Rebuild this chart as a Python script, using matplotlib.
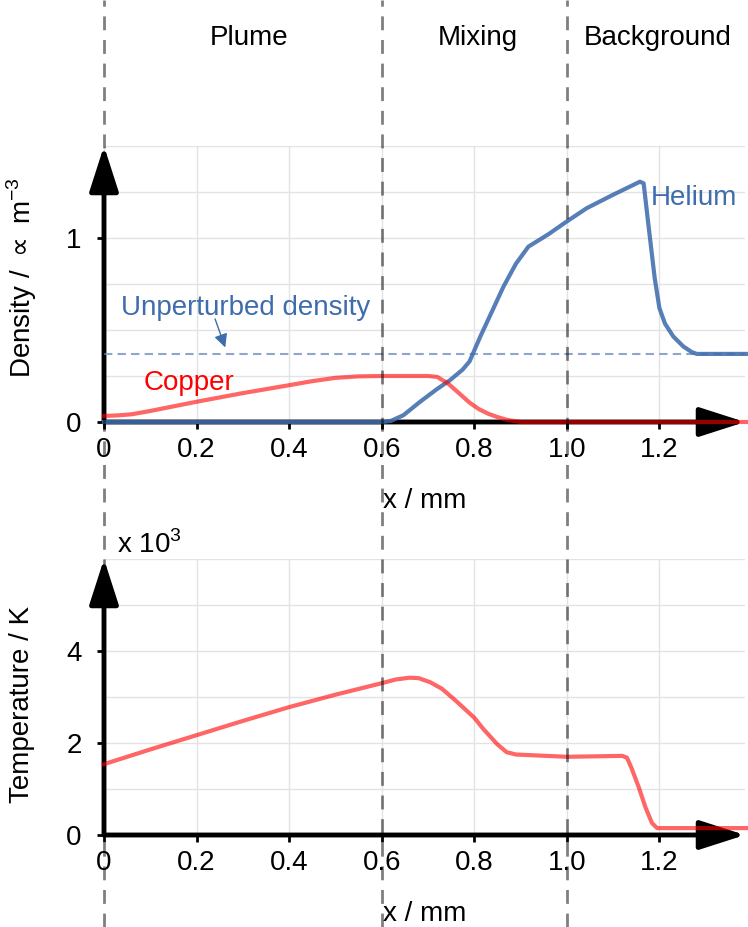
import matplotlib.pyplot as plt
import matplotlib.transforms as mtransforms
from matplotlib.lines import Line2D

plt.rcParams["font.family"] = ["Liberation Sans", "DejaVu Sans"]
plt.rcParams["font.size"] = 20

# density profiles (arb. units) vs position in mm
x_cu = [0.0, 0.03, 0.06, 0.1, 0.15, 0.2, 0.3, 0.4, 0.45, 0.5, 0.55, 0.6, 0.7, 0.72,
        0.743, 0.77, 0.79, 0.81, 0.83, 0.85, 0.87, 0.9, 1.39]
n_cu = [0.033, 0.036, 0.042, 0.06, 0.085, 0.11, 0.157, 0.2, 0.222, 0.24, 0.248, 0.25,
        0.25, 0.245, 0.21, 0.15, 0.105, 0.07, 0.045, 0.027, 0.012, 0.0, 0.0]

x_he = [0.0, 0.6, 0.62, 0.647, 0.683, 0.719, 0.748, 0.775, 0.79, 0.813, 0.84, 0.863,
        0.89, 0.917, 0.96, 1.0, 1.043, 1.1, 1.158, 1.166, 1.175, 1.182, 1.19, 1.2,
        1.212, 1.23, 1.252, 1.27, 1.281, 1.39]
n_he = [0.0, 0.0, 0.006, 0.037, 0.11, 0.178, 0.228, 0.285, 0.33, 0.464, 0.61, 0.735,
        0.86, 0.953, 1.02, 1.09, 1.162, 1.235, 1.306, 1.297, 1.1, 0.95, 0.78, 0.62,
        0.535, 0.465, 0.41, 0.38, 0.37, 0.37]

n_unperturbed = 0.37

# temperature in 10^3 K
x_t = [0.0, 0.1, 0.2, 0.3, 0.4, 0.5, 0.6, 0.63, 0.66, 0.68, 0.705, 0.73, 0.76, 0.8,
       0.82, 0.85, 0.87, 0.89, 1.0, 1.12, 1.13, 1.14, 1.155, 1.17, 1.184, 1.195, 1.39]
temp = [1.54, 1.86, 2.17, 2.48, 2.78, 3.05, 3.30, 3.38, 3.42, 3.41, 3.32, 3.18, 2.92,
        2.55, 2.3, 1.97, 1.8, 1.75, 1.70, 1.72, 1.68, 1.45, 1.05, 0.6, 0.26, 0.15, 0.15]

xticks = [0, 0.2, 0.4, 0.6, 0.8, 1.0, 1.2]
xtick_labels = ["0", "0.2", "0.4", "0.6", "0.8", "1.0", "1.2"]
boundaries = [0.0, 0.6, 1.0]
regions = ["Plume", "Mixing", "Background"]
region_x = [249, 478, 658]

blue = "#3f6cad"
red = "#ff0000"

W, H = 748, 927
fig = plt.figure(figsize=(W / 100, H / 100), dpi=100)
ax_top = fig.add_axes([104 / W, 505 / H, 641 / W, 276 / H])
ax_bot = fig.add_axes([104 / W, 92 / H, 641 / W, 276 / H])


def style_axis(ax, ymax, yticks, yminor):
    ax.set_xlim(0, 1.385)
    ax.set_ylim(0, ymax)
    for s in ax.spines.values():
        s.set_visible(False)
    ax.set_xticks(xticks)
    ax.set_xticklabels(xtick_labels)
    ax.set_yticks(yticks)
    ax.set_yticks(yminor, minor=True)
    ax.tick_params(axis="both", which="major", direction="out", length=5, width=2,
                   color="k", labelsize=20, pad=6)
    ax.tick_params(axis="y", which="major", pad=11)
    ax.tick_params(axis="y", which="minor", length=0)
    ax.grid(True, which="both", color="#e3e3e3", lw=1)
    ax.set_axisbelow(True)
    ax.set_xlabel("x / mm", labelpad=18)
    arrow = dict(arrowstyle="-|>,head_length=1.4,head_width=0.45", color="k", lw=3.5,
                 shrinkA=0, shrinkB=0, mutation_scale=20)
    ax.annotate("", xy=(1, 0), xytext=(0, 0), xycoords="axes fraction",
                arrowprops=arrow, zorder=2)
    ax.annotate("", xy=(0, 1), xytext=(0, 0), xycoords="axes fraction",
                arrowprops=arrow, zorder=2)


style_axis(ax_top, 1.5, [0, 1], [0.25 * i for i in range(7)])
style_axis(ax_bot, 6, [0, 2, 4], list(range(7)))

# density panel
ax_top.plot([0, 1.39], [n_unperturbed, n_unperturbed], color="#8ea6cb", lw=1.5,
            dashes=(4, 2.5), zorder=3)
ax_top.plot(x_he, n_he, color=blue, lw=3, alpha=0.88, zorder=4, clip_on=False,
            solid_joinstyle="round")
ax_top.plot(x_cu, n_cu, color=red, lw=3, alpha=0.6, zorder=5, clip_on=False,
            solid_joinstyle="round")
ax_top.text(0.184, 0.21, "Copper", color=red, ha="center", va="center")
ax_top.text(1.275, 1.22, "Helium", color=blue, ha="center", va="center")
ax_top.text(0.305, 0.62, "Unperturbed density", color=blue, ha="center", va="center")
ax_top.annotate("", xy=(0.262, 0.405), xytext=(0.24, 0.56),
                arrowprops=dict(arrowstyle="-|>", color=blue, lw=1, shrinkA=0, shrinkB=0))

# temperature panel
ax_bot.plot(x_t, temp, color=red, lw=3, alpha=0.6, zorder=5, clip_on=False,
            solid_joinstyle="round")

# region boundaries across the whole figure
trans = mtransforms.blended_transform_factory(ax_top.transData, fig.transFigure)
for xb in boundaries:
    fig.add_artist(Line2D([xb, xb], [0, 1], transform=trans, color="k", alpha=0.5,
                          lw=2, dashes=(5, 3.5), zorder=6))

for name, xp in zip(regions, region_x):
    fig.text(xp / W, 1 - 38 / H, name, ha="center", va="center")

fig.text(22 / W, 1 - 278 / H, r"Density / $\propto$ m$^{\mathregular{-3}}$", rotation=90,
         ha="center", va="center")
fig.text(22 / W, 1 - 704 / H, "Temperature / K", rotation=90, ha="center", va="center")
fig.text(117 / W, 1 - 545 / H, r"x 10$^{\mathregular{3}}$", ha="left", va="center")

fig.savefig("out.png", dpi=100)
